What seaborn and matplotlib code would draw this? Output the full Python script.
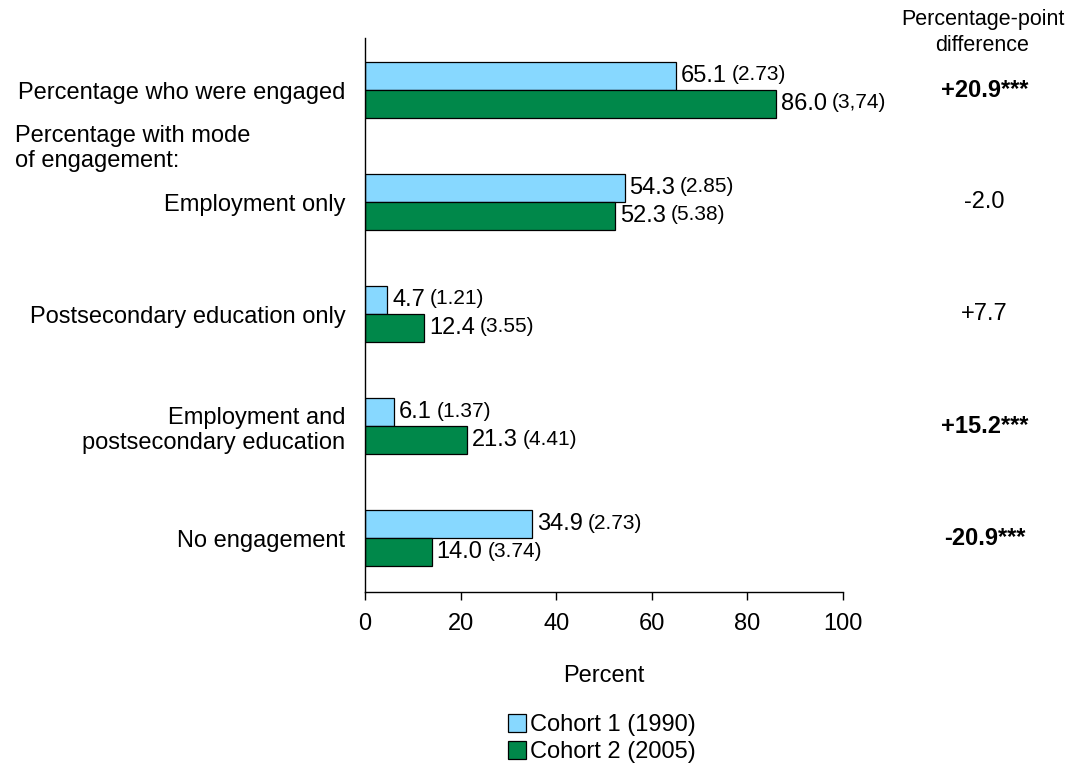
import numpy as np
import pandas as pd
import matplotlib
matplotlib.use("Agg")
import matplotlib.pyplot as plt
import matplotlib.transforms as mtransforms
from matplotlib.patches import Patch
import seaborn as sns

# chart data
categories = [
    "Percentage who were engaged",
    "Employment only",
    "Postsecondary education only",
    "Employment and\npostsecondary education",
    "No engagement",
]
cohorts = ["Cohort 1 (1990)", "Cohort 2 (2005)"]
cohort1 = [65.1, 54.3, 4.7, 6.1, 34.9]
cohort2 = [86.0, 52.3, 12.4, 21.3, 14.0]
se1 = ["(2.73)", "(2.85)", "(1.21)", "(1.37)", "(2.73)"]
se2 = ["(3,74)", "(5.38)", "(3.55)", "(4.41)", "(3.74)"]
diffs = ["+20.9***", "-2.0", "+7.7", "+15.2***", "-20.9***"]
diff_bold = [True, False, False, True, True]
colors = ["#87D8FF", "#00884A"]

FS = 17


def main():
    sns.set_style("white")
    plt.rcParams["font.family"] = ["Liberation Sans", "DejaVu Sans"]
    plt.rcParams["text.color"] = "black"
    plt.rcParams["axes.labelcolor"] = "black"

    df = pd.DataFrame({
        "category": categories * 2,
        "cohort": [cohorts[0]] * 5 + [cohorts[1]] * 5,
        "value": cohort1 + cohort2,
    })

    fig = plt.figure(figsize=(10.82, 7.72), dpi=100)
    ax = fig.add_axes([0.3373, 0.2332, 0.7791 - 0.3373, 0.9508 - 0.2332])

    sns.barplot(data=df, y="category", x="value", hue="cohort", order=categories,
                hue_order=cohorts, palette=colors, saturation=1, width=0.5,
                orient="h", edgecolor="black", linewidth=0.9, ax=ax, legend=False)

    ax.set_xlim(0, 100)
    ax.set_ylim(4.48, -0.465)
    ax.set_xticks(np.arange(0, 101, 20))
    ax.set_ylabel("")
    ax.set_xlabel("Percent", fontsize=FS, labelpad=22)
    ax.tick_params(axis="x", labelsize=FS, length=6, width=1, direction="out",
                   bottom=True, pad=9, colors="black")
    ax.tick_params(axis="y", labelsize=FS, length=0, pad=14, colors="black")
    for s in ["top", "right"]:
        ax.spines[s].set_visible(False)
    for s in ["left", "bottom"]:
        ax.spines[s].set_color("black")
        ax.spines[s].set_linewidth(1)

    # value labels
    fig.canvas.draw()
    for i in range(len(categories)):
        for vals, ses, off in [(cohort1, se1, -0.125), (cohort2, se2, 0.125)]:
            t1 = ax.annotate(f"{vals[i]:.1f}", xy=(vals[i], i + off), xytext=(3.5, 0),
                             textcoords="offset points", fontsize=FS,
                             va="center", ha="left")
            ax.annotate(ses[i], xy=(1, 0.12), xycoords=t1, xytext=(3.5, 0),
                        textcoords="offset points", fontsize=15,
                        va="bottom", ha="left")

    # difference column
    trans = mtransforms.blended_transform_factory(fig.transFigure, ax.transData)
    for i, d in enumerate(diffs):
        ax.text(0.91, i, d, transform=trans, ha="center", va="center",
                fontsize=FS, fontweight="bold" if diff_bold[i] else "normal")
    fig.text(0.908, 0.958, "Percentage-point\ndifference", ha="center", va="center",
             fontsize=15.5, linespacing=1.3)

    fig.text(0.014, 0.808, "Percentage with mode\nof engagement:", ha="left",
             va="center", fontsize=FS, linespacing=1.2)

    handles = [Patch(facecolor=c, edgecolor="black", linewidth=0.9) for c in colors]
    fig.legend(handles, cohorts, loc="upper center", bbox_to_anchor=(0.556, 0.09),
               frameon=False, fontsize=FS, handlelength=0.78, handleheight=0.78,
               handletextpad=0.17, labelspacing=0.2, borderpad=0)

    fig.savefig("out.png", dpi=100)


if __name__ == "__main__":
    main()
